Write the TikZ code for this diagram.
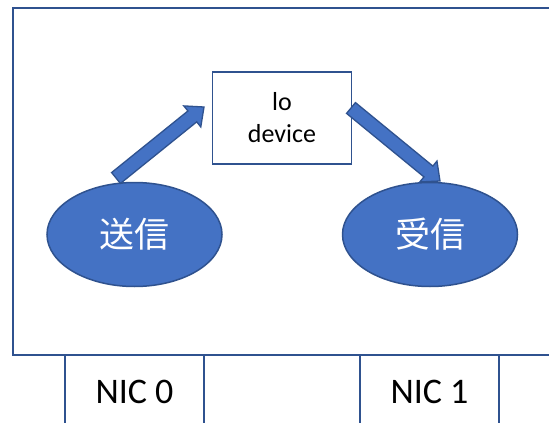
\documentclass[tikz,border=0pt]{standalone}
\usepackage{fontspec}
\setmainfont{Carlito}
\newfontfamily\cjk{Noto Sans CJK JP}
\usetikzlibrary{shapes.geometric,calc}
\definecolor{ofill}{HTML}{4472C4}
\definecolor{oline}{HTML}{2F528F}
\tikzset{
  frameline/.style={draw=oline,line width=2pt},
  devbox/.style={draw=oline,line width=1.6pt,fill=white,minimum width=139pt,minimum height=92pt,inner sep=0pt,align=center,font=\fontsize{26}{32}\selectfont},
  procell/.style={ellipse,draw=oline,line width=1.5pt,fill=ofill,minimum width=175pt,minimum height=104pt,inner sep=0pt,text=white,font=\cjk\fontsize{35}{40}\selectfont},
  nicbox/.style={draw=oline,line width=1.6pt,minimum width=139pt,minimum height=73pt,inner sep=0pt,font=\fontsize{36}{40}\selectfont},
  fatarrow/.style={draw=oline,line width=1.3pt,fill=ofill,line join=miter}
}
\newcommand\fatarr[2]{%
  \coordinate (hb) at ($(#2)!15pt!(#1)$);
  \path[fatarrow] ($(#1)!7pt!90:(#2)$) -- ($(hb)!7pt!-90:(#1)$) -- ($(hb)!13.5pt!-90:(#1)$) -- (#2)
    -- ($(hb)!13.5pt!90:(#1)$) -- ($(hb)!7pt!90:(#1)$) -- ($(#1)!7pt!-90:(#2)$) -- cycle;}
\begin{document}
\begin{tikzpicture}[x=1pt,y=-1pt]
\useasboundingbox (0,0) rectangle (549,423);
\clip (0,0) rectangle (549,423);
\fill[white] (0,0) rectangle (549,423);
% host frame
\draw[frameline] (13,8) rectangle (570,355);
% NIC boxes
\node[nicbox] (nic0) at (134.5,391.5) {NIC 0};
\node[nicbox] (nic1) at (429.5,391.5) {NIC 1};
% lo device
\node[devbox] (lo) at (282,118) {lo\\device};
% processes
\node[procell] (send) at (134.5,234.5) {送信};
\node[procell] (recv) at (430,234.5) {受信};
% arrows
\coordinate (s1) at (116,178);
\coordinate (t1) at (204,107);
\coordinate (s2) at (351,108);
\coordinate (t2) at (440,181);
\fatarr{s1}{t1}
\fatarr{s2}{t2}
\end{tikzpicture}
\end{document}
